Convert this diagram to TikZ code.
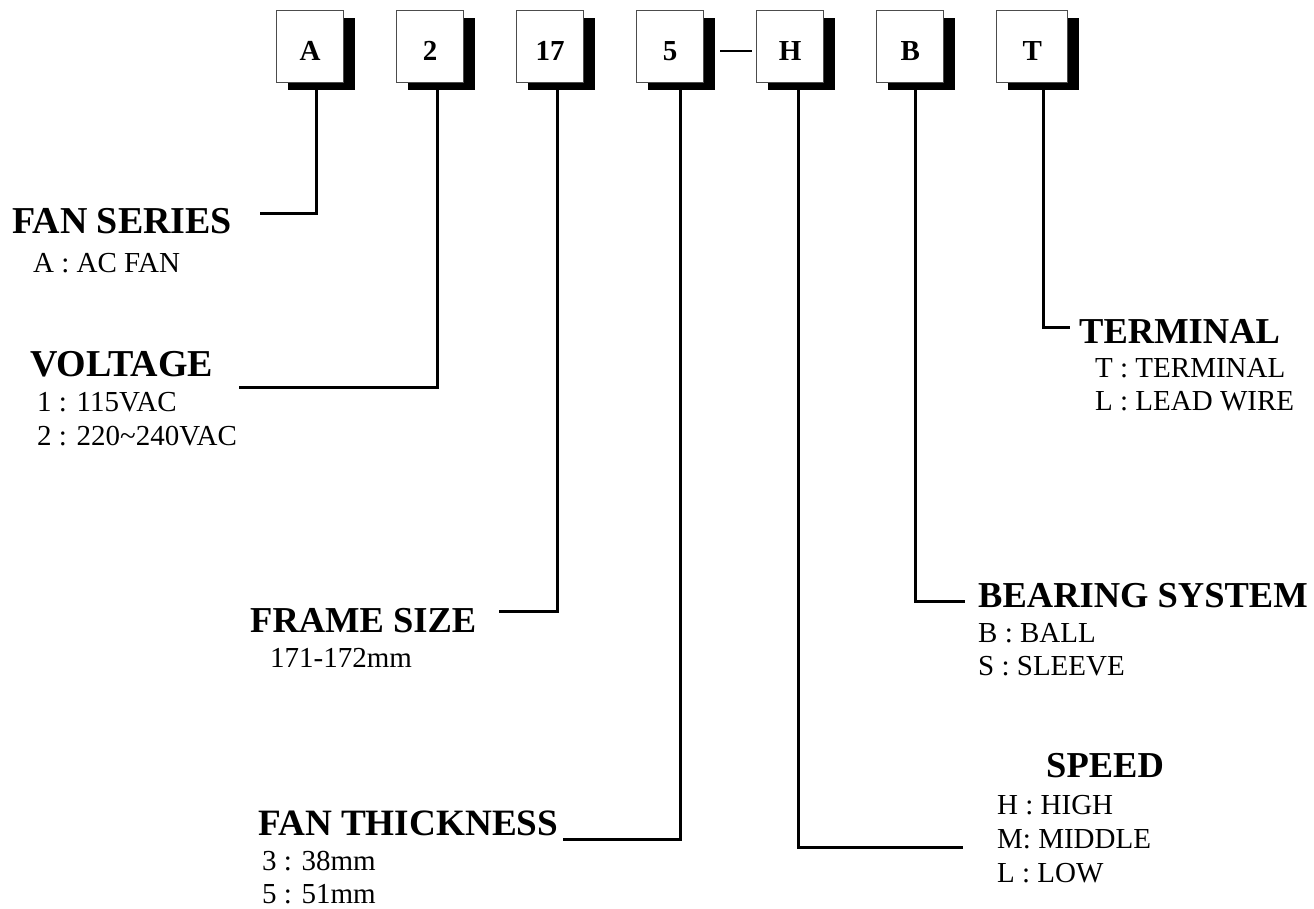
\documentclass[tikz,border=0pt]{standalone}
\usepackage{fontspec}
\setmainfont{Liberation Serif}
\usetikzlibrary{shadows}
\begin{document}
\begin{tikzpicture}[x=1pt,y=-1pt,
  codebox/.style={rectangle, draw=black!70, line width=1.4pt, fill=white,
    minimum width=67pt, minimum height=72pt, anchor=north west, inner sep=0pt,
    text height=28pt, text depth=0pt,
    font=\fontsize{29}{32}\selectfont\bfseries,
    drop shadow={shadow xshift=11pt, shadow yshift=-7pt, fill=black, opacity=1}},
  ttl/.style={anchor=base west, inner sep=0pt, font=\fontsize{36.5}{40}\selectfont\bfseries},
  ttlbig/.style={ttl, font=\fontsize{38}{42}\selectfont\bfseries},
  opt/.style={anchor=base west, inner sep=0pt, font=\fontsize{29}{32}\selectfont},
  conn/.style={line width=3pt, line join=miter}]
\useasboundingbox (0,0) rectangle (1314,908);
% code boxes
\node[codebox] (bA) at (276,10) {A};
\node[codebox] (b2) at (396,10) {2};
\node[codebox] (b17) at (516,10) {17};
\node[codebox] (b5) at (636,10) {5};
\node[codebox] (bH) at (756,10) {H};
\node[codebox] (bB) at (876,10) {B};
\node[codebox, minimum width=71pt] (bT) at (996,10) {T};
% dash between 5 and H
\coordinate (dL) at (720,51);
\coordinate (dR) at (752,51);
\draw[line width=1.5pt] (dL) -- (dR);
% titles and options
\node[ttlbig] (tA) at (12,233) {FAN SERIES};
\node[opt] (oA1) at (33,272) {A : AC FAN};
\node[ttlbig] (t2) at (30,376) {VOLTAGE};
\node[opt] (o21) at (37,411) {1 : 115VAC};
\node[opt] (o22) at (37,445) {2 : 220\textasciitilde240VAC};
\node[ttl] (t17) at (250,632) {FRAME SIZE};
\node[opt] (o171) at (270,667) {171-172mm};
\node[ttl, font=\fontsize{37.2}{40}\selectfont\bfseries] (t5) at (258,835) {FAN THICKNESS};
\node[opt] (o51) at (262,870) {3 : 38mm};
\node[opt] (o52) at (262,903) {5 : 51mm};
\node[ttl] (tH) at (1046,777) {SPEED};
\node[opt] (oH1) at (997,814) {H : HIGH};
\node[opt] (oH2) at (997,848) {M: MIDDLE};
\node[opt] (oH3) at (997,882) {L : LOW};
\node[ttl] (tB) at (978,607) {BEARING SYSTEM};
\node[opt] (oB1) at (978,642) {B : BALL};
\node[opt] (oB2) at (978,675) {S : SLEEVE};
\node[ttl] (tT) at (1079,343) {TERMINAL};
\node[opt] (oT1) at (1095,377) {T : TERMINAL};
\node[opt] (oT2) at (1095,410) {L : LEAD WIRE};
% connector ends
\coordinate (eA) at (260,213);
\coordinate (e2) at (239,387);
\coordinate (e17) at (499,611);
\coordinate (e5) at (563,839);
\coordinate (eH) at (963,847);
\coordinate (eB) at (965,601);
\coordinate (eT) at (1070,327);
% connectors
\draw[conn] ([xshift=6.5pt,yshift=-7pt]bA.south) |- (eA);
\draw[conn] ([xshift=7.5pt,yshift=-7pt]b2.south) |- (e2);
\draw[conn] ([xshift=7.5pt,yshift=-7pt]b17.south) |- (e17);
\draw[conn] ([xshift=10.5pt,yshift=-7pt]b5.south) |- (e5);
\draw[conn] ([xshift=8.5pt,yshift=-7pt]bH.south) |- (eH);
\draw[conn] ([xshift=5.5pt,yshift=-7pt]bB.south) |- (eB);
\draw[conn] ([xshift=11.5pt,yshift=-7pt]bT.south) |- (eT);
\end{tikzpicture}
\end{document}
